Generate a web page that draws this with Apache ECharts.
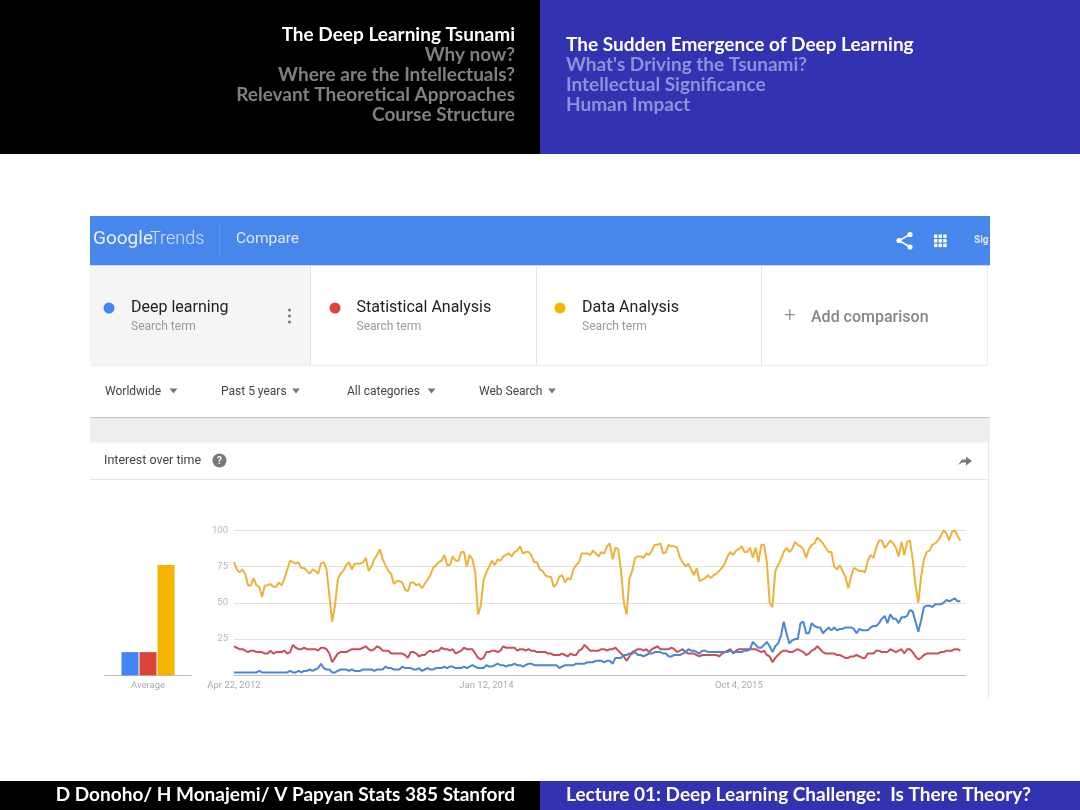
<!DOCTYPE html>
<html>
<head>
<meta charset="utf-8">
<title>Deep Learning Tsunami</title>
<script src="https://cdn.jsdelivr.net/npm/echarts@6/dist/echarts.min.js"></script>
<style>
html, body { margin: 0; padding: 0; background: #fff; }
#main { width: 1080px; height: 810px; }
</style>
</head>
<body>
<div id="main"></div>
<script>
// weekly values, one per week from Apr 22, 2012
var deepLearning = [
	2,2,2,2,2,2,2,2,2,3, 2,2,2,2,2,2,2,2,2,2, 3,2,2,3,2,3,3,4,3,4,
	5,8,5,4,4,2,2,3,4,4, 4,3,4,3,3,3,4,4,4,4, 3,4,4,4,6,5,5,4,4,4,
	6,5,5,5,4,4,5,3,4,5, 4,4,5,5,5,6,5,6,6,5, 5,5,6,5,6,7,6,5,5,5,
	7,6,6,7,8,7,7,6,7,7, 8,7,7,6,7,8,8,7,7,7, 7,7,7,7,7,7,5,6,7,7,
	7,7,8,8,8,8,9,9,9,10, 10,10,9,10,10,8,12,12,12,14, 14,15,15,16,14,14,13,14,15,15,
	16,16,16,15,15,13,13,14,14,14, 15,16,18,17,17,16,15,17,17,16, 16,16,16,16,16,16,16,17,16,16,
	16,16,17,17,18,23,21,19,19,21, 23,20,16,20,22,27,37,29,22,24, 25,25,36,37,29,29,36,34,33,33,
	29,31,33,31,33,31,32,32,33,33, 33,32,29,32,31,31,31,33,34,34, 36,39,41,36,42,39,39,36,40,40,
	41,45,44,37,30,38,47,48,48,47, 49,49,49,50,52,51,52,53,51,51
];
var statisticalAnalysis = [
	20,19,18,18,17,16,17,17,16,16, 16,15,15,17,15,16,16,16,17,15, 16,21,19,18,18,19,18,18,18,18,
	17,19,19,18,15,9,12,15,16,16, 16,17,18,18,18,18,19,20,18,17, 18,20,19,17,17,17,15,15,15,15,
	15,14,12,16,16,15,13,14,14,16, 17,16,17,17,19,18,18,17,18,15, 16,17,19,18,18,18,15,12,11,12,
	16,16,17,17,16,17,20,19,19,19, 19,17,18,18,17,18,17,17,16,16, 16,16,15,15,14,14,14,15,14,13,
	15,14,14,17,18,21,19,17,17,17, 17,18,18,17,18,18,19,17,15,13, 10,13,16,17,18,18,17,18,16,18,
	19,20,18,18,18,18,19,18,16,17, 18,16,15,15,15,14,13,14,14,14, 14,14,14,13,15,16,17,18,15,17,
	18,18,18,18,18,18,18,17,16,17, 14,13,9,12,14,16,17,17,16,16, 17,18,17,16,14,15,17,18,20,18,
	16,15,15,15,15,14,14,13,12,12, 13,13,14,13,12,12,15,15,15,17, 17,16,16,16,18,17,16,17,18,15,
	18,18,16,13,11,12,14,15,15,15, 15,15,16,16,17,17,17,18,18,17
];
var dataAnalysis = [
	78,73,71,73,70,62,62,67,62,61, 54,62,62,63,61,61,64,62,67,73, 79,78,77,78,74,74,72,70,73,72,
	70,77,78,73,55,37,48,66,70,72, 76,78,73,77,77,77,78,81,72,75, 80,83,87,80,76,72,70,63,65,65,
	64,59,58,64,64,62,63,60,63,66, 69,74,76,78,79,83,76,76,82,79, 79,85,85,75,83,80,71,42,48,66,
	71,75,79,76,80,79,82,83,84,82, 85,86,89,84,85,85,83,78,78,73, 72,69,68,68,61,63,68,69,64,67,
	66,73,76,78,84,84,84,83,86,84, 82,85,84,89,91,80,88,87,72,50, 42,67,72,81,82,82,81,84,83,86,
	90,90,91,84,85,90,89,89,88,81, 78,75,77,73,69,74,65,66,67,69, 67,69,70,72,74,77,82,85,83,86,
	87,89,85,85,88,81,88,78,90,90, 78,50,47,72,76,80,85,88,85,87, 92,90,89,87,81,87,90,91,95,93,
	91,88,85,85,75,73,76,72,68,60, 68,74,73,72,72,71,79,83,81,88, 93,93,88,90,93,91,88,82,92,83,
	92,93,80,62,50,68,80,85,86,90, 91,93,96,100,98,93,99,100,96,93
];
var averages = [16, 16, 76];
var termNames = ['Deep learning', 'Statistical Analysis', 'Data Analysis'];
var yTicks = [0, 25, 50, 75, 100];
var dateTickIndex = [0, 90, 180];

var termColors = ['#4285f4', '#db4437', '#f4b400'];
var lineColors = ['#4a86d6', '#c9505a', '#e9b33c'];

// one week per category, the last two stay empty so the grid runs past the data
var monthNames = ['Jan','Feb','Mar','Apr','May','Jun','Jul','Aug','Sep','Oct','Nov','Dec'];
var weeks = [];
for (var w = 0; w < 262; w++) {
	var d = new Date(Date.UTC(2012, 3, 22 + w * 7));
	weeks.push(monthNames[d.getUTCMonth()] + ' ' + d.getUTCDate() + ', ' + d.getUTCFullYear());
}

var uiFont = 'Roboto';
var slideFont = 'Lato';

function box(x, y, w, h, color) {
	return { type: 'rect', silent: true, z: 1, shape: { x: x, y: y, width: w, height: h }, style: { fill: color } };
}
function label(str, x, y, size, color, opts) {
	opts = opts || {};
	return {
		type: 'text', silent: true, z: 3, x: x, y: y,
		style: {
			text: str, fill: color, fontSize: size,
			fontFamily: opts.font || uiFont,
			fontWeight: opts.weight || 'normal',
			align: opts.align || 'left',
			verticalAlign: 'middle'
		}
	};
}
function dot(x, y, r, color) {
	return { type: 'circle', silent: true, z: 3, shape: { cx: x, cy: y, r: r }, style: { fill: color } };
}
function caret(x, y) {
	return { type: 'polygon', silent: true, z: 3, shape: { points: [[x - 4, y - 2], [x + 4, y - 2], [x, y + 3]] }, style: { fill: '#777' } };
}
function stroke(points, color, width) {
	return { type: 'polyline', silent: true, z: 3, shape: { points: points }, style: { stroke: color, lineWidth: width, fill: null } };
}

var graphics = [
	// slide header and footer
	box(0, 0, 540, 154, '#000'),
	box(540, 0, 540, 154, '#3333b2'),
	box(0, 781, 540, 29, '#000'),
	box(540, 781, 540, 29, '#3333b2'),
	label('The Deep Learning Tsunami', 515, 35, 19, '#fff', { font: slideFont, align: 'right', weight: 'bold' }),
	label('Why now?', 515, 55, 19, '#808080', { font: slideFont, align: 'right', weight: 'bold' }),
	label('Where are the Intellectuals?', 515, 75, 19, '#808080', { font: slideFont, align: 'right', weight: 'bold' }),
	label('Relevant Theoretical Approaches', 515, 95, 19, '#808080', { font: slideFont, align: 'right', weight: 'bold' }),
	label('Course Structure', 515, 115, 19, '#808080', { font: slideFont, align: 'right', weight: 'bold' }),
	label('The Sudden Emergence of Deep Learning', 566, 45, 19, '#fff', { font: slideFont, weight: 'bold' }),
	label("What's Driving the Tsunami?", 566, 65, 19, '#9090d8', { font: slideFont, weight: 'bold' }),
	label('Intellectual Significance', 566, 85, 19, '#9090d8', { font: slideFont, weight: 'bold' }),
	label('Human Impact', 566, 105, 19, '#9090d8', { font: slideFont, weight: 'bold' }),
	label('D Donoho/ H Monajemi/ V Papyan Stats 385 Stanford', 515, 795, 19, '#fff', { font: slideFont, align: 'right', weight: 'bold' }),
	label('Lecture 01: Deep Learning Challenge:  Is There Theory?', 566, 795, 19, '#fff', { font: slideFont, weight: 'bold' }),

	// trends top bar
	box(90, 216, 900, 49, '#4787ec'),
	box(90, 265, 900, 1, '#c9d9f2'),
	box(219, 222, 1, 36, '#5a93ee'),
	label('Google', 93, 239, 19, '#e8f0fd'),
	label('Trends', 150, 239, 18, '#cfe0fa', { weight: 300 }),
	label('Compare', 236, 239, 15.5, '#dbe7fb'),
	dot(910, 234.5, 2.6, '#fff'),
	dot(899, 240.5, 2.6, '#fff'),
	dot(910, 247, 2.6, '#fff'),
	stroke([[910, 234.5], [899, 240.5], [910, 247]], '#fff', 1.5),
	label('Sig', 974, 240, 10, '#dbe7fb', { weight: 'bold' }),

	// search term cards
	box(90, 266, 220, 99, '#f5f5f6'),
	box(310, 266, 1, 99, '#e4e4e4'),
	box(536, 266, 1, 99, '#e4e4e4'),
	box(761, 266, 1, 99, '#e4e4e4'),
	box(987, 266, 1, 99, '#ececec'),
	box(90, 365, 898, 1, '#ececec'),
	dot(109, 308, 5.5, termColors[0]),
	dot(335, 308, 5.5, termColors[1]),
	dot(560, 308, 5.5, termColors[2]),
	label(termNames[0], 131, 308, 16, '#222'),
	label(termNames[1], 356.5, 308, 16, '#222'),
	label(termNames[2], 582, 308, 16, '#222'),
	label('Search term', 131, 326.5, 12, '#9a9a9a'),
	label('Search term', 356.5, 326.5, 12, '#9a9a9a'),
	label('Search term', 582, 326.5, 12, '#9a9a9a'),
	dot(289.5, 310, 1.5, '#777'),
	dot(289.5, 316, 1.5, '#777'),
	dot(289.5, 322, 1.5, '#777'),
	label('+', 790, 316, 20, '#8a8a8a', { align: 'center', weight: 300 }),
	label('Add comparison', 811, 318, 16, '#85858a', { weight: 500 }),

	// filter row
	label('Worldwide', 105, 391.5, 12, '#444'),
	caret(173.5, 390.5),
	label('Past 5 years', 221, 391.5, 12, '#444'),
	caret(296, 390.5),
	label('All categories', 347, 391.5, 12, '#444'),
	caret(431.5, 390.5),
	label('Web Search', 479, 391.5, 12, '#444'),
	caret(552, 390.5),
	box(90, 417, 900, 1, '#c4c4c4'),
	box(90, 418, 900, 24.5, '#eeeeee'),

	// chart card
	label('Interest over time', 104, 461, 12.5, '#444'),
	dot(219.5, 460.5, 7, '#777'),
	label('?', 219.5, 461, 10, '#fff', { align: 'center', weight: 'bold' }),
	box(90, 479, 898, 1, '#e6e6e6'),
	box(988, 442, 1, 256, '#e8e8e8'),
	{
		type: 'polygon', silent: true, z: 3,
		shape: { points: [[958, 465], [962, 459.5], [966, 459.5], [966, 456.5], [972, 461], [966, 465.5], [966, 462.5], [962, 462.5]] },
		style: { fill: '#777' }
	}
];
// the apps grid in the top bar
for (var row = 0; row < 3; row++) {
	for (var col = 0; col < 3; col++) {
		graphics.push(box(934 + col * 4.6, 234.5 + row * 4.6, 3.4, 3.4, '#fff'));
	}
}

var lineSeries = [deepLearning, statisticalAnalysis, dataAnalysis].map(function(values, i) {
	return {
		name: termNames[i],
		type: 'line',
		xAxisIndex: 0,
		yAxisIndex: 0,
		data: values,
		symbol: 'none',
		smooth: false,
		z: 5 + (2 - i),
		lineStyle: { color: lineColors[i], width: 2 }
	};
});
var barSeries = termNames.map(function(name, i) {
	return {
		name: name,
		type: 'bar',
		xAxisIndex: 1,
		yAxisIndex: 1,
		barWidth: 17,
		barGap: '6%',
		data: [averages[i]],
		itemStyle: { color: termColors[i] }
	};
});

var option = {
	animation: false,
	backgroundColor: '#fff',
	tooltip: { show: false },
	graphic: graphics,
	grid: [
		{ left: 234, top: 530.3, width: 732, height: 145 },
		{ left: 104, top: 530.3, width: 88, height: 145 }
	],
	xAxis: [{
		type: 'category',
		gridIndex: 0,
		data: weeks,
		boundaryGap: false,
		axisTick: { show: false },
		axisLine: { lineStyle: { color: '#bdbdbd', width: 1 } },
		splitLine: { show: false },
		axisLabel: {
			color: '#aaaaaa',
			fontSize: 9.5,
			fontFamily: uiFont,
			margin: 5,
			interval: function(index) { return dateTickIndex.indexOf(index) >= 0; }
		}
	}, {
		type: 'category',
		gridIndex: 1,
		data: ['Average'],
		axisTick: { show: false },
		axisLine: { lineStyle: { color: '#bdbdbd', width: 1 } },
		axisLabel: { color: '#aaaaaa', fontSize: 9.5, fontFamily: uiFont, margin: 5 }
	}],
	yAxis: [{
		type: 'value',
		gridIndex: 0,
		min: 0,
		max: 100,
		interval: 25,
		axisLine: { show: false },
		axisTick: { show: false },
		splitLine: { lineStyle: { color: '#e2e2e2', width: 1 } },
		axisLabel: {
			color: '#b5b5b5',
			fontSize: 9.5,
			fontFamily: uiFont,
			margin: 6,
			formatter: function(v) { return v === yTicks[0] ? '' : String(v); }
		}
	}, {
		type: 'value',
		gridIndex: 1,
		min: 0,
		max: 100,
		show: false
	}],
	series: lineSeries.concat(barSeries)
};

var chart = echarts.init(document.getElementById('main'));
chart.setOption(option);
window.onresize = chart.resize;
</script>
</body>
</html>
